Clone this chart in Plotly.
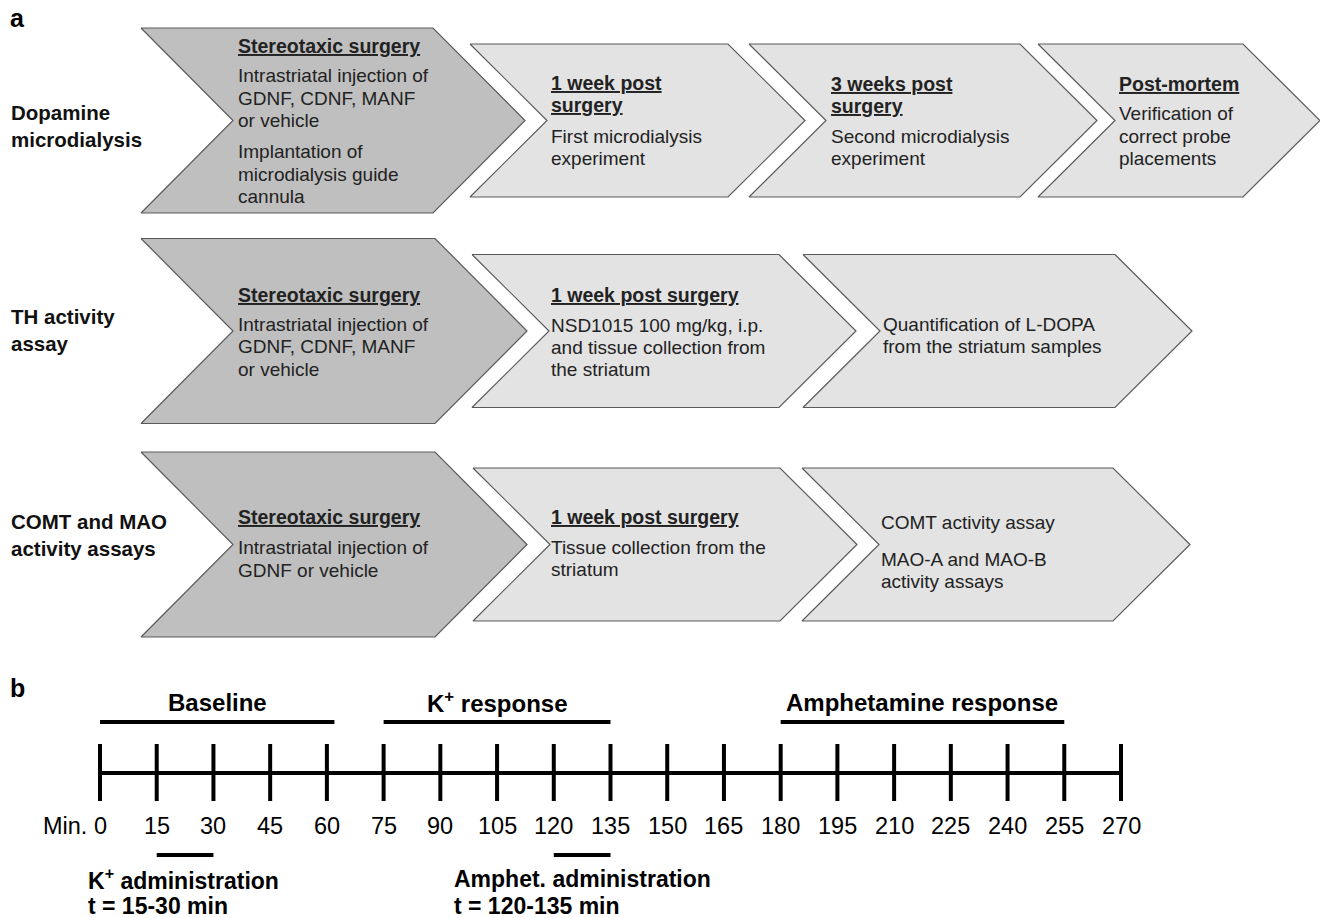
import plotly.graph_objects as go

# ---------------- data ----------------
panel_letters = ["a", "b"]

row_labels = [["Dopamine", "microdialysis"], ["TH activity", "assay"], ["COMT and MAO", "activity assays"]]

# stage kind, left x, top-right x  (diagram units)
row1_stages = [("dark", 141, 433), ("light", 470, 728), ("light", 749, 1020), ("light", 1038, 1243)]
row2_stages = [("dark", 141, 435), ("light", 472, 779), ("light", 803, 1115)]
row3_stages = [("dark", 141, 435), ("light", 473, 780), ("light", 802, 1113)]

# each stage: list of (is_header, line)
row1_texts = [
    [(1, "Stereotaxic surgery"), (0, "Intrastriatal injection of"), (0, "GDNF, CDNF, MANF"), (0, "or vehicle"),
     (0, "Implantation of"), (0, "microdialysis guide"), (0, "cannula")],
    [(1, "1 week post"), (1, "surgery"), (0, "First microdialysis"), (0, "experiment")],
    [(1, "3 weeks post"), (1, "surgery"), (0, "Second microdialysis"), (0, "experiment")],
    [(1, "Post-mortem"), (0, "Verification of"), (0, "correct probe"), (0, "placements")],
]
row2_texts = [
    [(1, "Stereotaxic surgery"), (0, "Intrastriatal injection of"), (0, "GDNF, CDNF, MANF"), (0, "or vehicle")],
    [(1, "1 week post surgery"), (0, "NSD1015 100 mg/kg, i.p."), (0, "and tissue collection from"), (0, "the striatum")],
    [(0, "Quantification of L-DOPA"), (0, "from the striatum samples")],
]
row3_texts = [
    [(1, "Stereotaxic surgery"), (0, "Intrastriatal injection of"), (0, "GDNF or vehicle")],
    [(1, "1 week post surgery"), (0, "Tissue collection from the"), (0, "striatum")],
    [(0, "COMT activity assay"), (0, "MAO-A and MAO-B"), (0, "activity assays")],
]

# timeline (minutes)
tick_minutes = [0, 15, 30, 45, 60, 75, 90, 105, 120, 135, 150, 165, 180, 195, 210, 225, 240, 255, 270]
tick_labels = [str(t) for t in tick_minutes]
phase_names = ["Baseline", "K<sup>+</sup> response", "Amphetamine response"]
phase_start = [0, 75, 180]
phase_end = [62, 135, 255]
admin_start = [15, 120]
admin_end = [30, 135]
admin_labels = [["K<sup>+</sup> administration", "t = 15-30 min"], ["Amphet. administration", "t = 120-135 min"]]

# ---------------- layout constants ----------------
W, H = 1320, 918
FONT = "Liberation Sans, Arial, sans-serif"
DARK_FILL = "#bfbfbf"
LIGHT_FILL = "#e3e3e3"
EDGE = "#5a5a5a"
TXT = "#222222"

row_centers = [120.5, 331, 544.5]
dark_half, dark_depth = 92.5, 92
light_half, light_depth = 76.5, 77

# timeline mapping: minute 0 -> px 100, minute 270 -> px 1121
px0, px270 = 100, 1121
mpp = 270 / (px270 - px0)
x2_range = [-px0 * mpp, (W - px0) * mpp]

fig = go.Figure()


def chevron(kind, x0, x1, yc):
    h, d = (dark_half, dark_depth) if kind == "dark" else (light_half, light_depth)
    xs = [x0, x1, x1 + d, x1, x0, x0 + d, x0]
    ys = [yc - h, yc - h, yc, yc + h, yc + h, yc, yc - h]
    return xs, ys


annotations = []


def add_text(x, y, text, size, color=TXT, xref="x", anchor="left"):
    annotations.append(dict(x=x, y=y, xref=xref, yref="y", text=text, showarrow=False,
                            xanchor=anchor, yanchor="middle", align=anchor,
                            font=dict(family=FONT, size=size, color=color)))


# ---------------- panel a ----------------
all_rows = [row1_stages, row2_stages, row3_stages]
for yc, stages in zip(row_centers, all_rows):
    for kind, x0, x1 in stages:
        xs, ys = chevron(kind, x0, x1, yc)
        fig.add_trace(go.Scatter(x=xs, y=ys, mode="lines", fill="toself",
                                 fillcolor=DARK_FILL if kind == "dark" else LIGHT_FILL,
                                 line=dict(color=EDGE, width=1.2), hoverinfo="skip", showlegend=False))

# text placement inside chevrons: left x, line centre ys
text_layout = [
    [(236, [46, 75, 98, 120, 151, 174, 196]), (549, [83, 105, 136, 158]),
     (829, [84, 106, 136, 158]), (1117, [84, 113, 136, 158])],
    [(236, [295, 324, 346, 369]), (549, [295, 325, 347, 369]), (881, [324, 346])],
    [(236, [517, 547, 570]), (549, [517, 547, 569]), (879, [522, 559, 581])],
]
for texts, lay in zip([row1_texts, row2_texts, row3_texts], text_layout):
    for lines, (tx, tys) in zip(texts, lay):
        for (is_h, s), ty in zip(lines, tys):
            t = "<b><u>" + s + "</u></b>" if is_h else s
            add_text(tx, ty, t, 19.5 if is_h else 19)

label_ys = [[112, 139], [316, 343], [521, 548]]
for lines, ys in zip(row_labels, label_ys):
    for s, y in zip(lines, ys):
        add_text(9, y, "<b>" + s + "</b>", 20.5, color="#111")

add_text(8, 18, "<b>" + panel_letters[0] + "</b>", 25, color="#000")
add_text(8, 688, "<b>" + panel_letters[1] + "</b>", 25, color="#000")

# ---------------- panel b ----------------
LINE_Y = 773
TICK_TOP, TICK_BOT = 744, 801
PHASE_Y = 722
ADMIN_Y = 855

fig.add_trace(go.Scatter(x=[tick_minutes[0], tick_minutes[-1]], y=[LINE_Y, LINE_Y], xaxis="x2", mode="lines",
                         line=dict(color="#000", width=4), hoverinfo="skip", showlegend=False))
tx, ty = [], []
for t in tick_minutes:
    tx += [t, t, None]
    ty += [TICK_TOP, TICK_BOT, None]
fig.add_trace(go.Scatter(x=tx, y=ty, xaxis="x2", mode="lines", line=dict(color="#000", width=4),
                         hoverinfo="skip", showlegend=False))
bx, by = [], []
for a, b in zip(phase_start, phase_end):
    bx += [a, b, None]
    by += [PHASE_Y, PHASE_Y, None]
for a, b in zip(admin_start, admin_end):
    bx += [a, b, None]
    by += [ADMIN_Y, ADMIN_Y, None]
fig.add_trace(go.Scatter(x=bx, y=by, xaxis="x2", mode="lines", line=dict(color="#000", width=4),
                         hoverinfo="skip", showlegend=False))

for name, a, b in zip(phase_names, phase_start, phase_end):
    add_text((a + b) / 2, 702, "<b>" + name + "</b>", 24, color="#000", xref="x2", anchor="center")

for t, lab in zip(tick_minutes, tick_labels):
    add_text(t, 826, lab, 23.5, color="#000", xref="x2", anchor="center")
add_text(89, 826, "Min.", 23.5, color="#000", anchor="right")

admin_left = [86, 452]
for lines, xl in zip(admin_labels, admin_left):
    add_text(xl, 879, "<b>" + lines[0] + "</b>", 23, color="#000")
    add_text(xl, 906, "<b>" + lines[1] + "</b>", 23, color="#000")

fig.update_layout(
    width=W, height=H, margin=dict(l=0, r=0, t=0, b=0),
    paper_bgcolor="white", plot_bgcolor="white",
    xaxis=dict(range=[0, W], visible=False, domain=[0, 1]),
    xaxis2=dict(range=x2_range, visible=False, domain=[0, 1], overlaying="x"),
    yaxis=dict(range=[H, 0], visible=False),
    annotations=annotations,
    showlegend=False,
)
fig.write_html("out.html", config={"displayModeBar": False},
               post_script="document.body.style.margin='0';")
